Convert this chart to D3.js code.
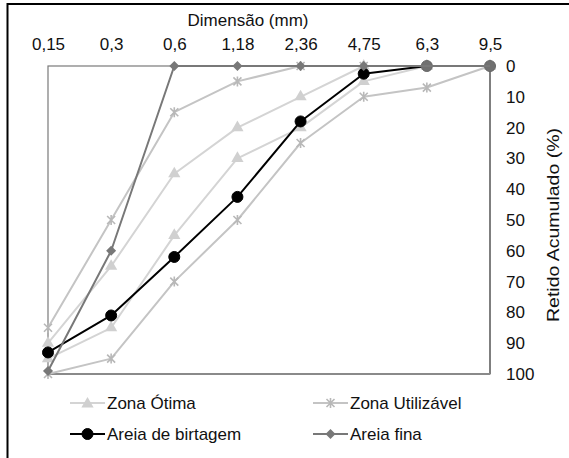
<!DOCTYPE html>
<html>
<head>
<meta charset="utf-8">
<script src="https://cdn.jsdelivr.net/npm/d3@7"></script>
<style>
  html, body { margin: 0; padding: 0; background: #fff; }
  svg { display: block; font-family: "Liberation Sans", Arial, sans-serif; }
</style>
</head>
<body>
<svg id="chart" width="569" height="458"></svg>
<script>
// ---------- data ----------
const sieves = ["0,15", "0,3", "0,6", "1,18", "2,36", "4,75", "6,3", "9,5"];
const yTicks = [0, 10, 20, 30, 40, 50, 60, 70, 80, 90, 100];

const zonaOtimaInf = [90, 65, 35, 20, 10, 0, 0, 0];
const zonaOtimaSup = [95, 85, 55, 30, 20, 5, 0, 0];
const zonaUtilInf = [85, 50, 15, 5, 0, 0, 0, 0];
const zonaUtilSup = [100, 95, 70, 50, 25, 10, 7, 0];
const areiaBritagem = [93, 81, 62, 42.5, 18, 2.5, 0, 0];
const areiaFina = [99, 60, 0, 0, 0, 0, 0, 0];

const legendNames = ["Zona Ótima", "Zona Utilizável", "Areia de birtagem", "Areia fina"];

// ---------- layout ----------
const svg = d3.select("#chart");
const W = 569, H = 458;
const plot = { left: 48, right: 490, top: 66, bottom: 374 };

const x = d3.scalePoint().domain(sieves).range([plot.left, plot.right]).padding(0);
const y = d3.scaleLinear().domain([0, 100]).range([plot.top, plot.bottom]);

// outer frame
svg.append("rect").attr("x", 7.5).attr("y", 4).attr("width", W).attr("height", H)
  .attr("fill", "none").attr("stroke", "#000").attr("stroke-width", 2);

// plot frame
svg.append("rect")
  .attr("x", plot.left).attr("y", plot.top)
  .attr("width", plot.right - plot.left).attr("height", plot.bottom - plot.top)
  .attr("fill", "none").attr("stroke", "#7a7a7a").attr("stroke-width", 1.2);
svg.append("line").attr("x1", plot.right).attr("x2", plot.right)
  .attr("y1", plot.top).attr("y2", plot.bottom).attr("stroke", "#7f7f7f").attr("stroke-width", 2);
svg.append("line").attr("x1", plot.left).attr("x2", plot.right)
  .attr("y1", plot.bottom).attr("y2", plot.bottom).attr("stroke", "#8a8a8a").attr("stroke-width", 2);

// axes
const fontSize = 17;
const xAxis = svg.append("g").attr("transform", `translate(0,${plot.top})`)
  .call(d3.axisTop(x).tickSize(0).tickPadding(16));
xAxis.select(".domain").remove();
xAxis.selectAll("text").attr("font-size", fontSize).attr("fill", "#111")
  .attr("font-family", "'Liberation Sans', Arial, sans-serif");

const yAxis = svg.append("g").attr("transform", `translate(${plot.right},0)`)
  .call(d3.axisRight(y).tickValues(yTicks).tickSize(0).tickPadding(16));
yAxis.select(".domain").remove();
yAxis.selectAll("text").attr("font-size", fontSize).attr("fill", "#111")
  .attr("font-family", "'Liberation Sans', Arial, sans-serif");

// axis titles
svg.append("text").attr("x", 248).attr("y", 26).attr("text-anchor", "middle")
  .attr("font-size", fontSize).attr("fill", "#111").text("Dimensão (mm)");
svg.append("text").attr("transform", "translate(559,225) rotate(-90)")
  .attr("text-anchor", "middle").attr("font-size", fontSize).attr("fill", "#111")
  .attr("textLength", 194).attr("lengthAdjust", "spacingAndGlyphs")
  .text("Retido Acumulado (%)");

// ---------- marker symbols ----------
function triangle(g, cx, cy, s, color) {
  g.append("path").attr("d", d3.symbol(d3.symbolTriangle, s * s * 0.45)())
    .attr("transform", `translate(${cx},${cy})`).attr("fill", color);
}
function star(g, cx, cy, r, color) {
  const p = `M${-r},${-r}L${r},${r}M${-r},${r}L${r},${-r}M0,${-r * 1.25}L0,${r * 1.25}`;
  g.append("path").attr("d", p).attr("transform", `translate(${cx},${cy})`)
    .attr("stroke", color).attr("stroke-width", 1.6).attr("fill", "none");
}
function circle(g, cx, cy, r, fill) {
  g.append("circle").attr("cx", cx).attr("cy", cy).attr("r", r).attr("fill", fill)
    .attr("stroke", fill === "#000" ? "#000" : "#666").attr("stroke-width", 1);
}
function diamond(g, cx, cy, r, color) {
  g.append("path").attr("d", `M0,${-r}L${r},0L0,${r}L${-r},0Z`)
    .attr("transform", `translate(${cx},${cy})`).attr("fill", color);
}

const styles = {
  otima: { line: "#d4d4d4", marker: "#d0d0d0", width: 2 },
  util: { line: "#c4c4c4", marker: "#b8b8b8", width: 2 },
  brit: { line: "#000", width: 2 },
  fina: { line: "#787878", marker: "#787878", width: 2 }
};

const line = d3.line().x((d, i) => x(sieves[i])).y(d => y(d));

function drawSeries(values, st, markerFn) {
  const g = svg.append("g");
  g.append("path").attr("d", line(values)).attr("fill", "none")
    .attr("stroke", st.line).attr("stroke-width", st.width).attr("stroke-linejoin", "round");
  values.forEach((v, i) => markerFn(g, x(sieves[i]), y(v), v));
}

drawSeries(zonaOtimaInf, styles.otima, (g, cx, cy) => triangle(g, cx, cy, 12, styles.otima.marker));
drawSeries(zonaOtimaSup, styles.otima, (g, cx, cy) => triangle(g, cx, cy, 12, styles.otima.marker));
drawSeries(zonaUtilInf, styles.util, (g, cx, cy) => star(g, cx, cy, 4, styles.util.marker));
drawSeries(zonaUtilSup, styles.util, (g, cx, cy) => star(g, cx, cy, 4, styles.util.marker));
drawSeries(areiaBritagem, styles.brit, (g, cx, cy, v) => circle(g, cx, cy, 5.5, v === 0 ? "#707070" : "#000"));
drawSeries(areiaFina, styles.fina, (g, cx, cy) => {
  if (cx < x("6,3")) diamond(g, cx, cy, 5, styles.fina.marker);
});

// ---------- legend ----------
const legendPos = [
  { x: 70, y: 403 }, { x: 313, y: 403 },
  { x: 70, y: 434 }, { x: 313, y: 434 }
];
const legendMarkers = [
  (g, cx, cy) => triangle(g, cx, cy + 1, 12, styles.otima.marker),
  (g, cx, cy) => star(g, cx, cy, 4, styles.util.marker),
  (g, cx, cy) => circle(g, cx, cy, 5.5, "#000"),
  (g, cx, cy) => diamond(g, cx, cy, 5, styles.fina.marker)
];
const legendStyles = [styles.otima, styles.util, styles.brit, styles.fina];
legendNames.forEach((name, i) => {
  const p = legendPos[i];
  const g = svg.append("g");
  g.append("line").attr("x1", p.x).attr("x2", p.x + 35).attr("y1", p.y).attr("y2", p.y)
    .attr("stroke", legendStyles[i].line).attr("stroke-width", 2);
  legendMarkers[i](g, p.x + 17.5, p.y);
  g.append("text").attr("x", p.x + 37).attr("y", p.y).attr("dy", "0.35em")
    .attr("font-size", fontSize).attr("fill", "#111").text(name);
});
</script>
</body>
</html>
